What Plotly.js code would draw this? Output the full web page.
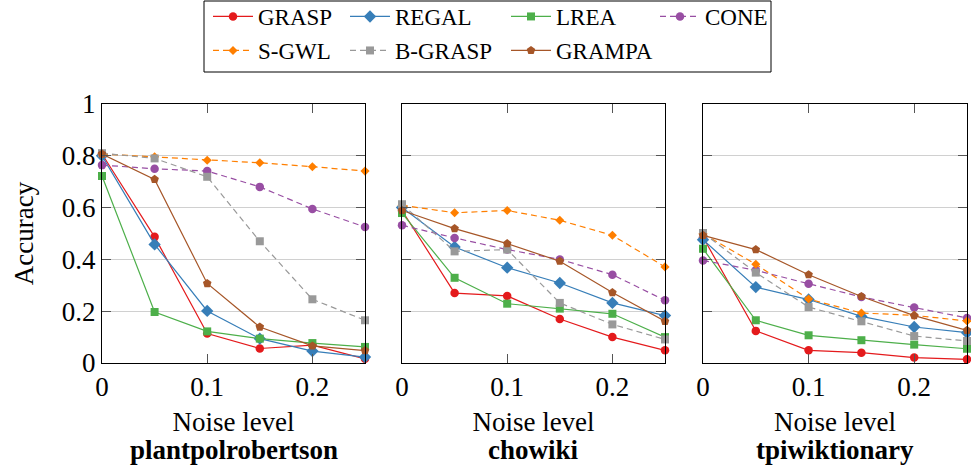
<!DOCTYPE html>
<html><head><meta charset="utf-8">
<script src="https://cdn.plot.ly/plotly-3.0.1.min.js"></script>
<style>html,body{margin:0;padding:0;background:#fff}#chart{width:971px;height:471px}</style>
</head><body><div id="chart"></div>
<script>
// ---- data ----
const noise = [0, 0.05, 0.1, 0.15, 0.2, 0.25];
const methods = ['GRASP', 'REGAL', 'LREA', 'CONE', 'S-GWL', 'B-GRASP', 'GRAMPA'];
const datasets = ['plantpolrobertson', 'chowiki', 'tpiwiktionary'];
const xTickVals = [0, 0.1, 0.2];
const xTickText = ['0', '0.1', '0.2'];
const yTickVals = [0, 0.2, 0.4, 0.6, 0.8, 1];
const yTickText = ['0', '0.2', '0.4', '0.6', '0.8', '1'];

// rows follow `methods`
const plantpolrobertsonAcc = [
  [0.807, 0.487, 0.114, 0.056, 0.069, 0.016],
  [0.800, 0.458, 0.201, 0.094, 0.046, 0.023],
  [0.722, 0.197, 0.122, 0.094, 0.077, 0.062],
  [0.764, 0.750, 0.741, 0.680, 0.595, 0.525],
  [0.807, 0.796, 0.783, 0.773, 0.758, 0.741],
  [0.810, 0.790, 0.719, 0.470, 0.246, 0.165],
  [0.807, 0.709, 0.307, 0.139, 0.066, 0.048]
];
const chowikiAcc = [
  [0.589, 0.270, 0.259, 0.170, 0.100, 0.049],
  [0.600, 0.448, 0.368, 0.309, 0.232, 0.183],
  [0.579, 0.329, 0.229, 0.210, 0.190, 0.100],
  [0.532, 0.483, 0.438, 0.400, 0.341, 0.242],
  [0.609, 0.580, 0.589, 0.551, 0.493, 0.371],
  [0.613, 0.431, 0.438, 0.232, 0.149, 0.091],
  [0.589, 0.519, 0.461, 0.393, 0.272, 0.161]
];
const tpiwiktionaryAcc = [
  [0.486, 0.124, 0.049, 0.040, 0.021, 0.014],
  [0.476, 0.293, 0.245, 0.180, 0.139, 0.117],
  [0.441, 0.165, 0.107, 0.088, 0.071, 0.055],
  [0.396, 0.358, 0.306, 0.255, 0.214, 0.174],
  [0.499, 0.381, 0.247, 0.193, 0.184, 0.162],
  [0.502, 0.349, 0.216, 0.161, 0.104, 0.085],
  [0.493, 0.438, 0.341, 0.257, 0.183, 0.126]
];
const allAcc = [plantpolrobertsonAcc, chowikiAcc, tpiwiktionaryAcc];

// ---- styles ----
const styles = {
  'GRASP':   {color: '#e41a1c', symbol: 'circle',   size: 8.5, dash: 'solid',   legend: 'legend',  lw: 82},
  'REGAL':   {color: '#377eb8', symbol: 'diamond',  size: 9.5, dash: 'solid',   legend: 'legend',  lw: 106},
  'LREA':    {color: '#4daf4a', symbol: 'square',   size: 8,   dash: 'solid',   legend: 'legend',  lw: 94},
  'CONE':    {color: '#984ea3', symbol: 'circle',   size: 8.5, dash: '6px,4px', legend: 'legend',  lw: 70},
  'S-GWL':   {color: '#ff7f00', symbol: 'diamond',  size: 7,   dash: '6px,4px', legend: 'legend2', lw: 82},
  'B-GRASP': {color: '#999999', symbol: 'square',   size: 8,   dash: '6px,4px', legend: 'legend2', lw: 106},
  'GRAMPA':  {color: '#a65628', symbol: 'pentagon', size: 9,   dash: 'solid',   legend: 'legend2', lw: 110}
};

const FONT = '"Times New Roman", "Liberation Serif", Times, serif';
const traces = [];
datasets.forEach((ds, i) => {
  const sfx = i === 0 ? '' : String(i + 1);
  methods.forEach((m, j) => {
    const s = styles[m];
    traces.push({
      type: 'scatter', mode: 'lines+markers', name: m,
      x: noise, y: allAcc[i][j],
      xaxis: 'x' + sfx, yaxis: 'y' + sfx,
      showlegend: i === 0, legend: s.legend, legendwidth: s.lw,
      cliponaxis: false,
      line: {color: s.color, width: 1.2, dash: s.dash},
      marker: {color: s.color, symbol: s.symbol, size: s.size, line: {width: 0}},
      hoverinfo: 'x+y+name'
    });
  });
});

const W = 971, H = 471, ML = 102, MR = 4, MT = 104, MB = 108;
const PW = W - ML - MR, PH = H - MT - MB;
const px = v => (v - ML) / PW;        // pixel x -> paper
const py = v => (H - MB - v) / PH;    // pixel y -> paper
const domains = [[px(102), px(365)], [px(402), px(665)], [px(703), px(967)]];

const axisCommon = {
  showline: true, mirror: 'ticks', linecolor: '#000', linewidth: 1,
  ticks: 'inside', ticklen: 9, tickcolor: '#555', tickwidth: 1,
  zeroline: false, fixedrange: true,
  tickfont: {family: FONT, size: 27, color: '#000'}
};
const legendCommon = {
  orientation: 'h', xanchor: 'left', yanchor: 'top',
  bgcolor: 'rgba(0,0,0,0)', borderwidth: 0, itemwidth: 40,
  font: {family: FONT, size: 23, color: '#000'}, traceorder: 'normal'
};

const layout = {
  width: W, height: H, autosize: false,
  margin: {l: ML, r: MR, t: MT, b: MB, pad: 0, autoexpand: false},
  paper_bgcolor: '#fff', plot_bgcolor: '#fff',
  font: {family: FONT, color: '#000'},
  showlegend: true,
  legend: Object.assign({}, legendCommon, {x: px(208), y: py(-5)}),
  legend2: Object.assign({}, legendCommon, {x: px(208), y: py(29)}),
  shapes: [{type: 'rect', xref: 'paper', yref: 'paper',
            x0: px(204), x1: px(771), y0: py(72), y1: py(1),
            line: {color: '#000', width: 1}, fillcolor: 'rgba(0,0,0,0)', layer: 'above'}],
  annotations: datasets.map((ds, i) => ({
    xref: 'paper', yref: 'paper', x: (domains[i][0] + domains[i][1]) / 2, y: py(450),
    text: '<b>' + ds + '</b>', showarrow: false, xanchor: 'center', yanchor: 'middle',
    font: {family: FONT, size: 27, color: '#000'}
  }))
};

datasets.forEach((ds, i) => {
  const sfx = i === 0 ? '' : String(i + 1);
  layout['xaxis' + sfx] = Object.assign({}, axisCommon, {
    domain: domains[i], range: [0, 0.25], anchor: 'y' + sfx,
    tickmode: 'array', tickvals: xTickVals, ticktext: xTickText, showgrid: false,
    title: {text: 'Noise level', font: {family: FONT, size: 27, color: '#000'}, standoff: 10}
  });
  layout['yaxis' + sfx] = Object.assign({}, axisCommon, {
    domain: [0, 1], range: [0, 1], anchor: 'x' + sfx,
    tickmode: 'array', tickvals: yTickVals, ticktext: yTickText,
    showgrid: true, gridcolor: '#d0d0d0', gridwidth: 1,
    showticklabels: i === 0,
    title: i === 0 ? {text: 'Accuracy', font: {family: FONT, size: 27, color: '#000'}, standoff: 20} : {text: ''}
  });
});

Plotly.newPlot('chart', traces, layout, {displayModeBar: false, staticPlot: true});
</script>
</body></html>
